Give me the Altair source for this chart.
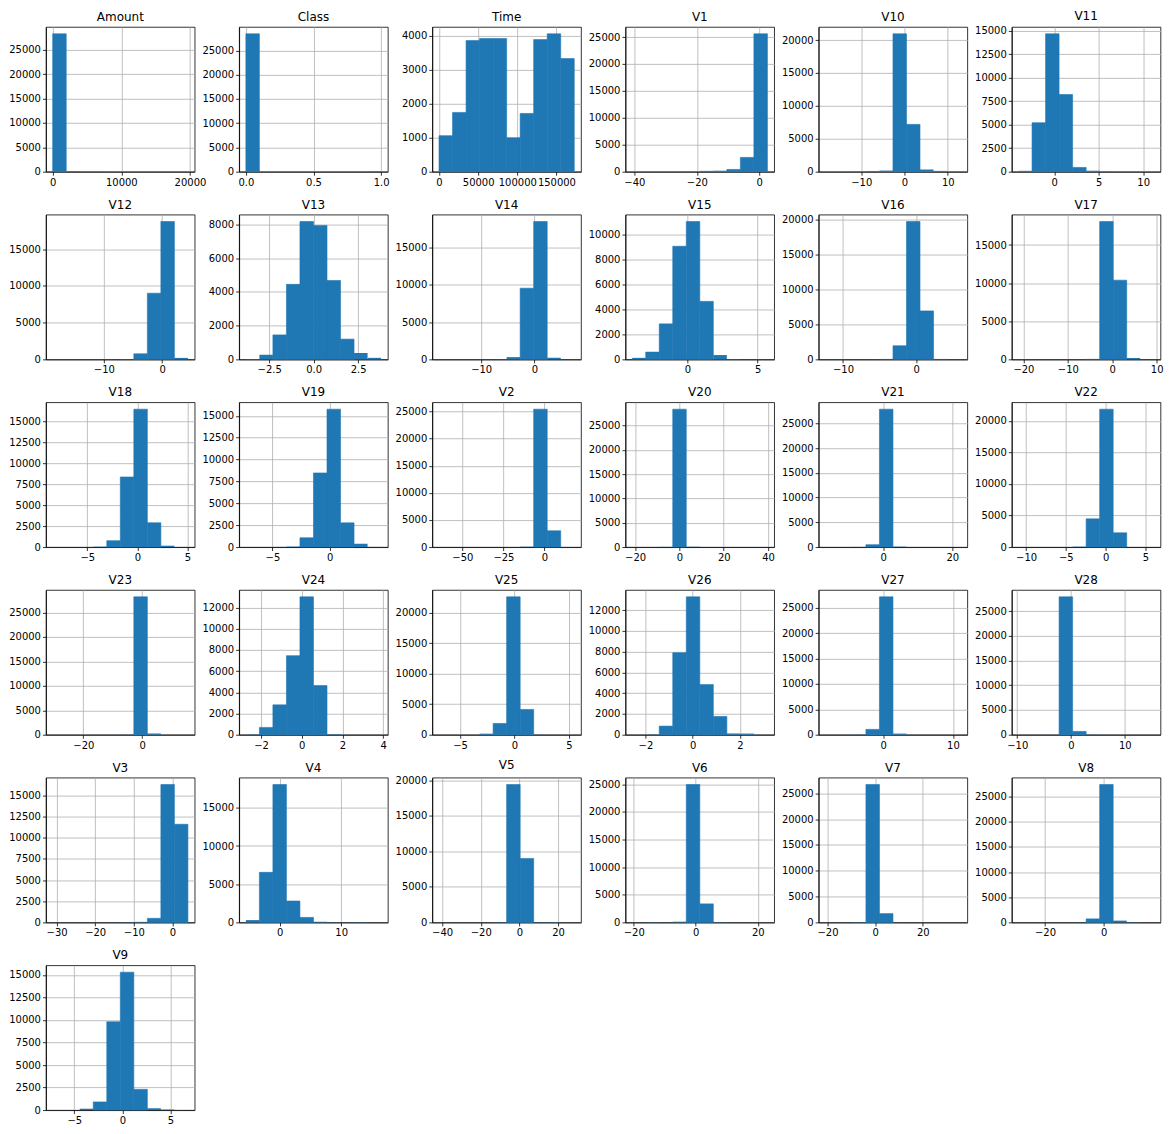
import altair as alt
import numpy as np
import pandas as pd

names = ["Amount", "Class", "Time", "V1", "V10", "V11",
         "V12", "V13", "V14", "V15", "V16", "V17",
         "V18", "V19", "V2", "V20", "V21", "V22",
         "V23", "V24", "V25", "V26", "V27", "V28",
         "V3", "V4", "V5", "V6", "V7", "V8",
         "V9"]

# minimum / maximum of each column (first and last bin edge)
x_min = [0, 0, 0, -40.7, -18.3, -4.01,
         -18.78, -3.81, -17.92, -3.93, -12.41, -21.1,
         -8.46, -7.32, -64.24, -21.3, -16.7, -10.95,
         -30.4, -2.75, -6.93, -2.56, -8.26, -9.76,
         -31.0, -5.5, -41.6, -20.5, -20.9, -29.0,
         -7.24]
x_max = [19700, 1, 172780, 2.6, 12.95, 11.19,
         4.44, 3.79, 7.48, 5.70, 6.07, 9.34,
         5.04, 4.5, 18.19, 39.7, 22.4, 6.05,
         15.56, 3.9, 5.5, 3.17, 11.09, 15.4,
         4.0, 16.5, 28.4, 23.1, 35.9, 17.0,
         6.82]

# counts of the 10 bins of each histogram
c_amount = [28280, 160, 22, 8, 4, 2, 1, 1, 0, 1]
c_class = [28430, 0, 0, 0, 0, 0, 0, 0, 0, 51]
c_time = [1060, 1745, 3860, 3920, 3920, 1000, 1715, 3890, 4060, 3330]
c_v1 = [1, 1, 2, 4, 10, 150, 180, 420, 2650, 25600]
c_v10 = [1, 3, 10, 110, 170, 20950, 7190, 330, 120, 5]
c_v11 = [90, 5200, 14650, 8200, 450, 100, 10, 3, 1, 1]
c_v12 = [1, 1, 2, 3, 6, 30, 760, 9000, 18750, 200]
c_v13 = [20, 280, 1450, 4450, 8180, 7950, 4680, 1200, 380, 90]
c_v14 = [1, 1, 2, 5, 20, 300, 9550, 18500, 200, 5]
c_v15 = [120, 580, 2840, 9050, 11030, 4640, 345, 20, 3, 1]
c_v16 = [1, 2, 3, 10, 60, 1950, 19760, 6940, 60, 5]
c_v17 = [1, 1, 2, 5, 10, 60, 18090, 10390, 180, 3]
c_v18 = [1, 2, 5, 40, 755, 8370, 16470, 2900, 160, 5]
c_v19 = [1, 2, 10, 50, 1060, 8470, 15760, 2770, 380, 8]
c_v2 = [1, 0, 1, 2, 3, 10, 60, 25430, 3000, 3]
c_v20 = [1, 2, 30, 28350, 60, 5, 2, 1, 0, 1]
c_v21 = [1, 2, 20, 470, 27890, 80, 10, 3, 1, 1]
c_v22 = [1, 1, 2, 5, 60, 4470, 21840, 2260, 20, 2]
c_v23 = [1, 1, 2, 3, 5, 30, 28190, 250, 5, 1]
c_v24 = [20, 690, 2820, 7460, 13010, 4640, 40, 10, 2, 1]
c_v25 = [1, 2, 5, 170, 1850, 22620, 4140, 30, 3, 1]
c_v26 = [5, 20, 830, 7900, 13280, 4830, 1760, 120, 110, 5]
c_v27 = [2, 5, 30, 1050, 27160, 220, 10, 3, 1, 1]
c_v28 = [1, 2, 20, 27890, 670, 30, 5, 2, 1, 1]
c_v3 = [1, 1, 2, 5, 10, 20, 60, 480, 16300, 11600]
c_v4 = [300, 6550, 18050, 2800, 650, 80, 20, 8, 3, 2]
c_v5 = [1, 1, 2, 5, 40, 19400, 9000, 30, 3, 2]
c_v6 = [1, 2, 10, 120, 24950, 3350, 40, 5, 2, 1]
c_v7 = [1, 3, 60, 26700, 1700, 10, 3, 1, 1, 1]
c_v8 = [1, 1, 2, 3, 10, 700, 27400, 350, 10, 3]
c_v9 = [5, 20, 150, 900, 9800, 15300, 2300, 200, 60, 10]

counts = [c_amount, c_class, c_time, c_v1, c_v10, c_v11,
          c_v12, c_v13, c_v14, c_v15, c_v16, c_v17,
          c_v18, c_v19, c_v2, c_v20, c_v21, c_v22,
          c_v23, c_v24, c_v25, c_v26, c_v27, c_v28,
          c_v3, c_v4, c_v5, c_v6, c_v7, c_v8,
          c_v9]

# x tick labels of each panel
x_ticks = [[0, 10000, 20000], [0.0, 0.5, 1.0], [0, 50000, 100000, 150000],
           [-40, -20, 0], [-10, 0, 10], [0, 5, 10],
           [-10, 0], [-2.5, 0.0, 2.5], [-10, 0], [0, 5], [-10, 0], [-20, -10, 0, 10],
           [-5, 0, 5], [-5, 0], [-50, -25, 0], [-20, 0, 20, 40], [0, 20], [-10, -5, 0, 5],
           [-20, 0], [-2, 0, 2, 4], [-5, 0, 5], [-2, 0, 2], [0, 10], [-10, 0, 10],
           [-30, -20, -10, 0], [0, 10], [-40, -20, 0, 20], [-20, 0, 20], [-20, 0, 20], [-20, 0, 20],
           [-5, 0, 5]]
x_fmt = ["d", ".1f", "d", "d", "d", "d",
         "d", ".1f", "d", "d", "d", "d",
         "d", "d", "d", "d", "d", "d",
         "d", "d", "d", "d", "d", "d",
         "d", "d", "d", "d", "d", "d",
         "d"]
# step between y tick labels of each panel
y_step = [5000, 5000, 1000, 5000, 5000, 2500,
          5000, 2000, 5000, 2000, 5000, 5000,
          2500, 2500, 5000, 5000, 5000, 5000,
          5000, 2000, 5000, 2000, 5000, 5000,
          2500, 5000, 5000, 5000, 5000, 5000,
          2500]

BLUE = "#1f77b4"
W, H = 149, 145

panels = []
for i, name in enumerate(names):
    lo, hi = x_min[i], x_max[i]
    edges = np.linspace(lo, hi, 11)
    c = counts[i]
    df = pd.DataFrame({"start": edges[:-1], "end": edges[1:],
                       "count": c, "base": [0] * 10})
    pad = 0.05 * (hi - lo)
    ymax = 1.05 * max(c)
    yt = list(range(0, int(ymax) + 1, y_step[i]))
    ch = alt.Chart(df, title=alt.Title(name)).mark_rect(
        color=BLUE, stroke=BLUE
    ).encode(
        x=alt.X("start:Q",
                scale=alt.Scale(domain=[lo - pad, hi + pad], nice=False, zero=False),
                axis=alt.Axis(values=x_ticks[i], format=x_fmt[i], title=None)),
        x2="end:Q",
        y=alt.Y("count:Q",
                scale=alt.Scale(domain=[0, ymax], nice=False, zero=True),
                axis=alt.Axis(values=yt, format="d", title=None)),
        y2="base:Q",
        strokeWidth=alt.when(alt.datum.count > 400).then(alt.value(0.6)).otherwise(alt.value(0)),
    ).properties(width=W, height=H)
    panels.append(ch)

chart = alt.concat(
    *panels, columns=6, bounds="flush",
    spacing={"row": 43.0, "column": 44.5},
).properties(
    padding={"left": 0, "top": 0, "right": 0, "bottom": 0},
    background="white",
).configure_axis(
    labelFont="DejaVu Sans", labelFontSize=10, labelColor="black",
    tickColor="black", tickSize=3.5, tickWidth=0.8, labelPadding=2,
    domain=True, domainColor="black", domainWidth=0.8,
    grid=True, gridColor="#b0b0b0", gridWidth=0.8,
    zindex=1, labelOverlap=False, labelFlush=False,
).configure_title(
    font="DejaVu Sans", fontSize=12, fontWeight="normal", color="black",
    offset=3, anchor="middle",
).configure_view(
    stroke="black", strokeWidth=0.8,
)

chart.save("out.html", embed_options={"renderer": "svg", "actions": False})
